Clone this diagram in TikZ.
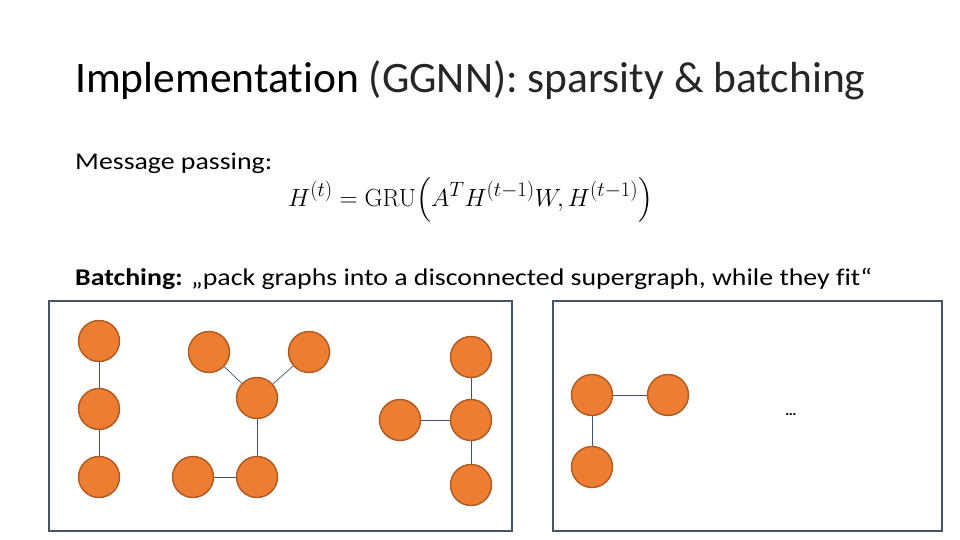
\documentclass[tikz,border=0pt]{standalone}
\usepackage{amsmath}
\usepackage[no-math]{fontspec}
\setmainfont{Carlito}[Ligatures=NoCommon]
\newfontfamily\bodyfont{Carlito}[Ligatures=NoCommon,FakeStretch=1.16]
\definecolor{nodefill}{HTML}{ED7D31}
\definecolor{nodeline}{HTML}{AE5A21}
\definecolor{slateline}{HTML}{44546A}

\begin{document}
\begin{tikzpicture}[x=1pt,y=-1pt,
    vertex/.style={circle,fill=nodefill,draw=nodeline,line width=1.4pt,
      minimum size=41pt,inner sep=0pt},
    link/.style={draw=slateline,line width=0.7pt},
    batchbox/.style={draw=slateline,line width=1.6pt},
    slidetext/.style={anchor=base west,inner sep=0pt}]
    \useasboundingbox (0,0) rectangle (960,540);
    % heading and text
    \node[slidetext,font=\fontsize{43.5}{50}\selectfont] (title) at (75,93)
      {Implementation {\color{black!85}(GGNN): sparsity \& batching}};
    \node[slidetext,font=\bodyfont\fontsize{24}{28}\selectfont] (msg) at (75,169.5)
      {Message passing:};
    \node[slidetext,font=\fontsize{31}{35}\selectfont] (eq) at (288,206)
      {$H^{(t)}=\mathrm{GRU}\Bigl(A^{T}H^{(t-1)}W, H^{(t-1)}\Bigr)$};
    \node[slidetext,font=\bodyfont\fontsize{24}{28}\selectfont] (batch) at (75,285)
      {\textbf{Batching:} „pack graphs into a disconnected supergraph, while they fit“};
    % the two supergraphs
    \draw[batchbox] (49,301) rectangle (512,531);
    \draw[batchbox] (553,301) rectangle (942,531);
    % first supergraph
    \node[vertex] (a1) at (99,341) {};
    \node[vertex] (a2) at (99,409) {};
    \node[vertex] (a3) at (99,477) {};
    \node[vertex] (b1) at (209,352) {};
    \node[vertex] (b2) at (309,352) {};
    \node[vertex] (b3) at (257,398) {};
    \node[vertex] (b4) at (257,477) {};
    \node[vertex] (b5) at (193,477) {};
    \node[vertex] (c1) at (471,357) {};
    \node[vertex] (c2) at (471,420) {};
    \node[vertex] (c3) at (400,420) {};
    \node[vertex] (c4) at (471,485) {};
    \draw[link] (a1) -- (a2) -- (a3);
    \draw[link] (b1) -- (b3) -- (b2);
    \draw[link] (b3) -- (b4) -- (b5);
    \draw[link] (c1) -- (c2) -- (c4);
    \draw[link] (c3) -- (c2);
    % second supergraph
    \node[vertex] (d1) at (592,395) {};
    \node[vertex] (d2) at (668,395) {};
    \node[vertex] (d3) at (592,467) {};
    \draw[link] (d2) -- (d1) -- (d3);
    \node[slidetext,font=\bodyfont\bfseries\fontsize{14}{16}\selectfont] (more) at (785,415) {\dots};
\end{tikzpicture}
\end{document}
